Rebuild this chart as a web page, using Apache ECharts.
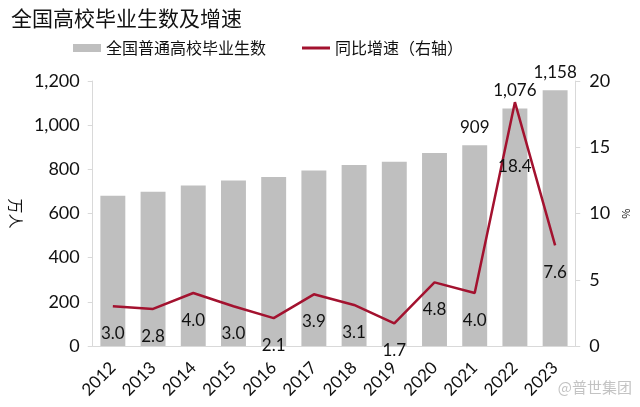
<!DOCTYPE html>
<html>
<head>
<meta charset="utf-8">
<script src="https://cdn.jsdelivr.net/npm/echarts@6/dist/echarts.min.js"></script>
<style>
  html, body { margin: 0; padding: 0; background: #fff; }
  #chart { width: 640px; height: 407px; }
</style>
</head>
<body>
<div id="chart"></div>
<script>
// 数据
var years = ['2012','2013','2014','2015','2016','2017','2018','2019','2020','2021','2022','2023'];
var graduates = [680, 699, 727, 749, 765, 795, 820, 834, 874, 909, 1076, 1158];
var growth = [3.0, 2.8, 4.0, 3.0, 2.1, 3.9, 3.1, 1.7, 4.8, 4.0, 18.4, 7.6];
var labeledBars = ['2021', '2022', '2023'];

var font = '"Noto Sans CJK SC", sans-serif';
var numFont = 'Lato, "Open Sans", sans-serif';
var lineColor = '#a3122f';

var chart = echarts.init(document.getElementById('chart'));
var option = {
    backgroundColor: '#fff',
    animation: false,
    title: {
        text: '全国高校毕业生数及增速',
        left: 6,
        top: 3,
        textStyle: { fontFamily: font, fontSize: 21, fontWeight: 'normal', color: '#111' }
    },
    legend: [
        {
            top: 35,
            left: 68,
            itemWidth: 28,
            itemHeight: 8,
            textStyle: { fontFamily: font, fontSize: 16, color: '#111' },
            data: [{ name: '全国普通高校毕业生数', icon: 'rect' }]
        },
        {
            top: 35,
            left: 297,
            itemWidth: 28,
            itemHeight: 3,
            textStyle: { fontFamily: font, fontSize: 16, color: '#111' },
            data: [{ name: '同比增速（右轴）', icon: 'rect' }]
        }
    ],
    grid: { left: 84, right: 63, top: 81, bottom: 61 },
    xAxis: {
        type: 'category',
        data: years,
        axisLine: { lineStyle: { color: '#d9d9d9' } },
        axisTick: { show: false },
        axisLabel: { rotate: 45, interval: 0, fontFamily: numFont, fontSize: 17, color: '#111', margin: 19 }
    },
    yAxis: [
        {
            type: 'value',
            min: 0, max: 1200, interval: 200,
            name: '万人',
            nameLocation: 'middle',
            nameGap: 62,
            nameRotate: -90,
            nameTextStyle: { fontFamily: font, fontSize: 15, color: '#111' },
            axisLine: { show: true, lineStyle: { color: '#d9d9d9' } },
            axisTick: { show: true, length: 5, lineStyle: { color: '#d9d9d9' } },
            splitLine: { show: false },
            axisLabel: {
                fontFamily: numFont, fontSize: 18, color: '#111', margin: 13,
                formatter: function (v) { return v.toLocaleString('en-US'); }
            }
        },
        {
            type: 'value',
            min: 0, max: 20, interval: 5,
            name: '%',
            nameLocation: 'middle',
            nameGap: 42,
            nameRotate: -90,
            nameTextStyle: { fontFamily: font, fontSize: 11, color: '#111' },
            axisLine: { show: true, lineStyle: { color: '#d9d9d9' } },
            axisTick: { show: true, length: 5, lineStyle: { color: '#d9d9d9' } },
            splitLine: { show: false },
            axisLabel: { fontFamily: numFont, fontSize: 18, color: '#111', margin: 14 }
        }
    ],
    series: [
        {
            name: '全国普通高校毕业生数',
            type: 'bar',
            barWidth: '62%',
            itemStyle: { color: '#bfbfbf' },
            data: graduates.map(function (v, i) {
                return {
                    value: v,
                    label: {
                        show: labeledBars.indexOf(years[i]) >= 0,
                        position: 'top',
                        distance: 9,
                        fontFamily: numFont, fontSize: 17, color: '#111',
                        formatter: function (p) { return p.value.toLocaleString('en-US'); }
                    }
                };
            })
        },
        {
            name: '同比增速（右轴）',
            type: 'line',
            yAxisIndex: 1,
            symbol: 'circle',
            symbolSize: 0,
            showSymbol: true,
            lineStyle: { color: lineColor, width: 2.5 },
            itemStyle: { color: lineColor },
            label: {
                show: true,
                position: 'bottom',
                distance: 19,
                fontFamily: numFont, fontSize: 17, color: '#111',
                formatter: function (p) { return p.value.toFixed(1); }
            },
            labelLayout: { hideOverlap: false },
            data: growth.map(function (v) {
                return v > 15 ? { value: v, label: { distance: 56 } } : v;
            })
        }
    ],
    graphic: [
        {
            type: 'text',
            right: 8,
            bottom: 12,
            style: { text: '@普世集团', fontFamily: font, fontSize: 15, fill: 'rgba(180,180,180,0.8)' }
        }
    ]
};
chart.setOption(option);
</script>
</body>
</html>
